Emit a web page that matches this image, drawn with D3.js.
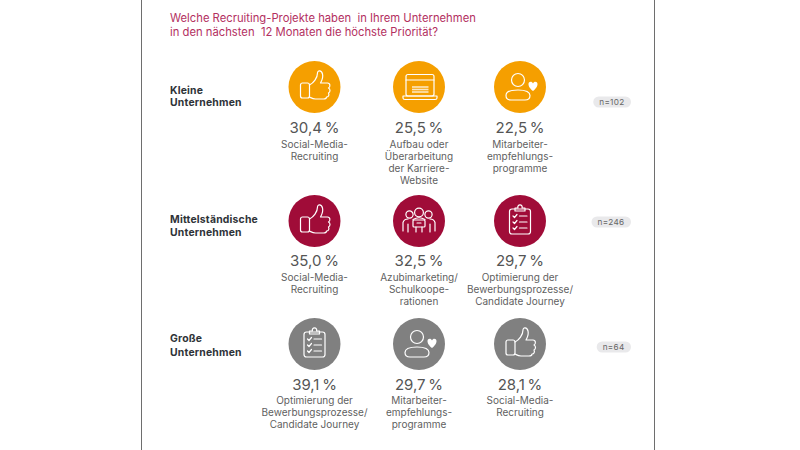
<!DOCTYPE html>
<html>
<head>
<meta charset="utf-8">
<script src="https://cdn.jsdelivr.net/npm/d3@7"></script>
<style>
  html, body { margin: 0; padding: 0; background: #fff; }
  svg { display: block; }
  text { font-family: Inter, "Noto Sans", sans-serif; white-space: pre; }
</style>
</head>
<body>
<div id="chart"></div>
<script>
// chart data
const titleLines = ["Welche Recruiting-Projekte haben  in Ihrem Unternehmen", "in den nächsten  12 Monaten die höchste Priorität?"];
const groups = ["Kleine|Unternehmen", "Mittelständische|Unternehmen", "Große|Unternehmen"];
const sampleSizes = ["n=102", "n=246", "n=64"];
const smallValues = [30.4, 25.5, 22.5];
const midValues = [35.0, 32.5, 29.7];
const largeValues = [39.1, 29.7, 28.1];
const smallLabels = ["Social-Media-|Recruiting", "Aufbau oder|Überarbeitung|der Karriere-|Website", "Mitarbeiter-|empfehlungs-|programme"];
const midLabels = ["Social-Media-|Recruiting", "Azubimarketing/|Schulkoope-|rationen", "Optimierung der|Bewerbungsprozesse/|Candidate Journey"];
const largeLabels = ["Optimierung der|Bewerbungsprozesse/|Candidate Journey", "Mitarbeiter-|empfehlungs-|programme", "Social-Media-|Recruiting"];
const smallIcons = ["thumb", "laptop", "person"];
const midIcons = ["thumb", "team", "clipboard"];
const largeIcons = ["clipboard", "person", "thumb"];

const width = 800;
const height = 450;

const rowColour = d3.scaleOrdinal().domain(groups).range(["#f59f00", "#a00c38", "#808080"]);
const colX = d3.scaleLinear().domain([0, 1, 2]).range([314.5, 419, 520]).clamp(true);
const rowY = d3.scaleOrdinal().domain(groups).range([87, 221, 344]);
const percent = d => d3.format(".1f")(d).replace(".", ",");

const svg = d3.select("#chart").append("svg")
  .attr("width", width)
  .attr("height", height);

// page edges of the pasted slide
svg.selectAll(".edge").data([141.5, 654.5]).enter().append("line")
  .attr("class", "edge")
  .attr("x1", d => d).attr("x2", d => d)
  .attr("y1", 0).attr("y2", height)
  .attr("stroke", "#6e6e6e").attr("stroke-width", 1);

svg.selectAll(".title").data(titleLines).enter().append("text")
  .attr("class", "title")
  .attr("x", 170)
  .attr("y", (d, i) => 22 + i * 14)
  .attr("font-size", 11.25)
  .attr("fill", "#b3305f")
  .text(d => d);

// icons are drawn around 0,0 inside the circle
const icons = {
  thumb(g) {
    g.append("rect").attr("x", -14).attr("y", -4).attr("width", 9).attr("height", 15).attr("rx", 2);
    g.append("path").attr("d", "M-5,-2 C-1,-4 3,-9 3,-14 C3,-17 7,-17 8,-13 C9,-9 7,-6 6,-4 L13,-4 C16,-4 16,0 14,1 C16,2 16,5 14,6 C15,8 14,10 12,10 C12,12 11,12 9,12 L1,12 C-2,12 -3,11 -5,10");
  },
  laptop(g) {
    g.append("rect").attr("x", -13).attr("y", -12.5).attr("width", 28).attr("height", 21.5).attr("rx", 2);
    g.append("path").attr("d", "M-16,9 L18,9 L18,11 Q18,12.5 16,12.5 L-14,12.5 Q-16,12.5 -16,11 Z");
    g.append("line").attr("x1", -13).attr("x2", 15).attr("y1", -7).attr("y2", -7);
    [0, 2.5, 5].forEach(y => {
      g.append("line").attr("x1", -7).attr("x2", 9.5).attr("y1", y).attr("y2", y)
        .attr("stroke-linecap", "butt").attr("stroke-opacity", 0.75).attr("stroke-width", 1.6);
    });
  },
  person(g) {
    g.append("circle").attr("cx", -2).attr("cy", -7).attr("r", 6.5);
    g.append("path").attr("d", "M-9,13 Q-14,13 -14,8.5 Q-14,3 -2,3 Q10,3 10,8.5 Q10,13 5,13 Z");
    g.append("path").attr("fill", "#fff").attr("stroke", "none").attr("d", "M13,4 C9,1 8.5,-1.5 8.5,-3 C8.5,-5.5 12,-6 13,-3.5 C14,-6 17.5,-5.5 17.5,-3 C17.5,-1.5 17,1 13,4 Z");
  },
  team(g) {
    g.append("circle").attr("cx", 0).attr("cy", -8.5).attr("r", 4.4);
    g.append("circle").attr("cx", -9.5).attr("cy", -6.5).attr("r", 3.6);
    g.append("circle").attr("cx", 9.5).attr("cy", -6.5).attr("r", 3.6);
    g.append("path").attr("d", "M-6,-1.5 Q0,-5 6,-1.5");
    g.append("path").attr("d", "M-16,10 L-16,1.5 Q-15,-2 -11,-2 M16,10 L16,1.5 Q15,-2 11,-2 M-11,3 L-11,11 M11,3 L11,11");
    g.append("rect").attr("x", -6).attr("y", -1).attr("width", 12).attr("height", 7).attr("rx", 1);
    g.append("path").attr("d", "M-2,2 L2,2 M-3,6 L-3,11 M3,6 L3,11");
  },
  clipboard(g) {
    g.append("rect").attr("x", -10.5).attr("y", -12).attr("width", 21).attr("height", 25).attr("rx", 2.5);
    g.append("path").attr("d", "M-5,-10 L-5,-13 L-2,-13 A2.2,2.2 0 1 1 2,-13 L5,-13 L5,-10 Z");
    [-5, 1, 7].forEach(y => {
      g.append("path").attr("d", `M-7,${y} L-5.5,${y + 1.5} L-3,${y - 1.5}`);
      g.append("line").attr("x1", -0.5).attr("x2", 7).attr("y1", y).attr("y2", y);
    });
  }
};

const rows = [
  { group: groups[0], n: sampleSizes[0], values: smallValues, labels: smallLabels, icons: smallIcons, pctY: 46, labelY: 61, nameY: [90, 102], pillY: 102 },
  { group: groups[1], n: sampleSizes[1], values: midValues, labels: midLabels, icons: midIcons, pctY: 45, labelY: 60, nameY: [219, 232], pillY: 222 },
  { group: groups[2], n: sampleSizes[2], values: largeValues, labels: largeLabels, icons: largeIcons, pctY: 46, labelY: 60, nameY: [338, 352], pillY: 347 }
];

rows.forEach(row => {
  const cy = rowY(row.group);

  svg.append("g").selectAll("text").data(row.group.split("|")).enter().append("text")
    .attr("x", 170)
    .attr("y", (d, i) => row.nameY[i] + 4)
    .attr("font-size", 10.4)
    .attr("font-weight", 700)
    .attr("letter-spacing", 0.2)
    .attr("fill", "#2f3338")
    .text(d => d);

  row.values.forEach((v, i) => {
    const cell = svg.append("g").attr("transform", `translate(${colX(i)},${cy})`);
    cell.append("circle").attr("r", 26).attr("fill", rowColour(row.group));

    const icon = cell.append("g")
      .attr("fill", "none")
      .attr("stroke", "#fff")
      .attr("stroke-width", 1.2)
      .attr("stroke-linejoin", "round")
      .attr("stroke-linecap", "round");
    icons[row.icons[i]](icon);

    cell.append("text")
      .attr("text-anchor", "middle")
      .attr("y", row.pctY)
      .attr("font-size", 15)
      .attr("fill", "#555")
      .text(percent(v) + "\u2009%");

    cell.selectAll(".lbl").data(row.labels[i].split("|")).enter().append("text")
      .attr("class", "lbl")
      .attr("text-anchor", "middle")
      .attr("y", (d, j) => row.labelY + j * 12)
      .attr("font-size", 10)
      .attr("fill", "#5f5f5f")
      .text(d => d);
  });

  // sample size pill, right aligned
  const pill = svg.append("g");
  const pillText = pill.append("text")
    .attr("x", 624.5)
    .attr("y", row.pillY + 3)
    .attr("text-anchor", "end")
    .attr("font-size", 8.2)
    .attr("letter-spacing", 0.3)
    .attr("fill", "#666")
    .text(row.n);
  const w = pillText.node().getComputedTextLength();
  pill.insert("rect", "text")
    .attr("x", 624.5 - w - 6)
    .attr("y", row.pillY - 5.5)
    .attr("width", w + 12.5)
    .attr("height", 11)
    .attr("rx", 5.5)
    .attr("fill", "#e9e9eb");
});
</script>
</body>
</html>
